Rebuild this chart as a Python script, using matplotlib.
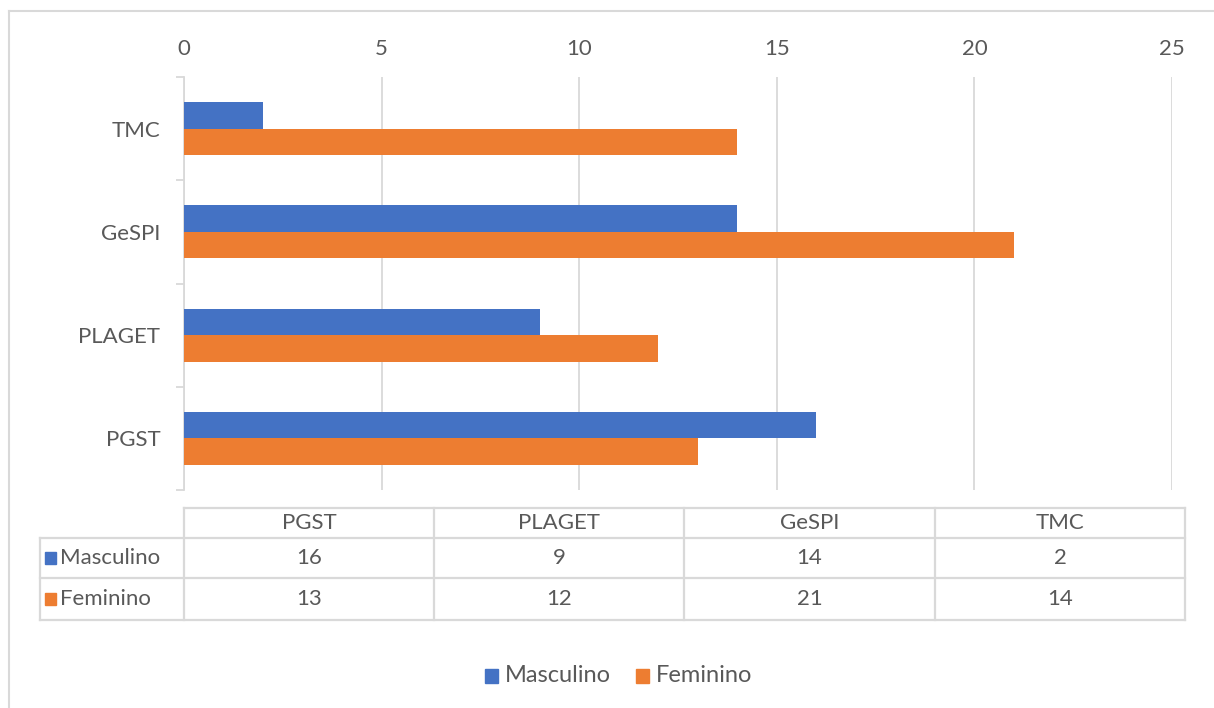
import matplotlib.pyplot as plt
from matplotlib.patches import Rectangle

categories = ['PGST', 'PLAGET', 'GeSPI', 'TMC']
masculino = [16, 9, 14, 2]
feminino = [13, 12, 21, 14]
series_names = ['Masculino', 'Feminino']
blue = '#4472C4'
orange = '#ED7D31'
grid_c = '#D9D9D9'
text_c = '#595959'

plt.rcParams['font.family'] = ['Lato', 'DejaVu Sans']

W, H = 1214, 708
fig = plt.figure(figsize=(W / 100, H / 100), dpi=100)


def fx(px):
    return px / W


def fy(py):
    return 1 - py / H


# outer chart border (left and top only visible)
fig.add_artist(plt.Line2D([fx(9), fx(9)], [fy(11), 0], color=grid_c, lw=1.5))
fig.add_artist(plt.Line2D([fx(9), 1], [fy(11), fy(11)], color=grid_c, lw=1.5))

# bar area
ax_l, ax_r, ax_t, ax_b = 184, 1172, 77, 490
ax = fig.add_axes([fx(ax_l), fy(ax_b), fx(ax_r - ax_l), (ax_b - ax_t) / H])

ypos = list(range(len(categories)))
h = 0.257
ax.barh([y + h / 2 for y in ypos], masculino, height=h, color=blue, zorder=3)
ax.barh([y - h / 2 for y in ypos], feminino, height=h, color=orange, zorder=3)

ax.set_xlim(0, 25)
ax.set_ylim(-0.5, len(categories) - 0.5)
ax.set_xticks(range(0, 26, 5))
ax.xaxis.tick_top()
ax.tick_params(axis='x', length=0, pad=13, labelsize=16, labelcolor=text_c)
ax.grid(axis='x', color=grid_c, lw=1.3, zorder=0)

ax.set_yticks(ypos)
ax.set_yticklabels(categories)
ax.set_yticks([y - 0.5 for y in range(len(categories) + 1)], minor=True)
ax.tick_params(axis='y', which='major', length=0, pad=17, labelsize=16, labelcolor=text_c)
ax.tick_params(axis='y', which='minor', length=6, width=1.3, color=grid_c)

for s in ['top', 'right', 'bottom']:
    ax.spines[s].set_visible(False)
ax.spines['left'].set_color(grid_c)
ax.spines['left'].set_linewidth(1.3)

# data table
col_x = [184, 434, 684, 935, 1185]
row_y = [508, 538, 578, 620]
lab_x = 40
lw = 1.6


def hline(y, x0, x1):
    fig.add_artist(plt.Line2D([fx(x0), fx(x1)], [fy(y), fy(y)], color=grid_c, lw=lw))


def vline(x, y0, y1):
    fig.add_artist(plt.Line2D([fx(x), fx(x)], [fy(y0), fy(y1)], color=grid_c, lw=lw))


hline(row_y[0], col_x[0], col_x[-1])
for y in row_y[1:]:
    hline(y, lab_x, col_x[-1])
vline(lab_x, row_y[1], row_y[-1])
for x in col_x:
    vline(x, row_y[0], row_y[-1])

for i, cat in enumerate(categories):
    cx = (col_x[i] + col_x[i + 1]) / 2
    fig.text(fx(cx), fy((row_y[0] + row_y[1]) / 2), cat, ha='center', va='center',
             fontsize=16, color=text_c)
rows = [masculino, feminino]
colors = [blue, orange]
for r, vals in enumerate(rows):
    cy = (row_y[r + 1] + row_y[r + 2]) / 2
    fig.add_artist(Rectangle((fx(45), fy(cy + 6)), fx(11), 12 / H, color=colors[r]))
    fig.text(fx(60), fy(cy), series_names[r], ha='left', va='center',
             fontsize=16, color=text_c)
    for i, v in enumerate(vals):
        cx = (col_x[i] + col_x[i + 1]) / 2
        fig.text(fx(cx), fy(cy), str(v), ha='center', va='center',
                 fontsize=16, color=text_c)

# legend
leg_y = 676
for name, c, x in zip(series_names, colors, [485, 636]):
    fig.add_artist(Rectangle((fx(x), fy(leg_y + 7)), fx(13), 14 / H, color=c))
    fig.text(fx(x + 20), fy(leg_y), name, ha='left', va='center',
             fontsize=17, color=text_c)

fig.savefig('out.png', dpi=100)
